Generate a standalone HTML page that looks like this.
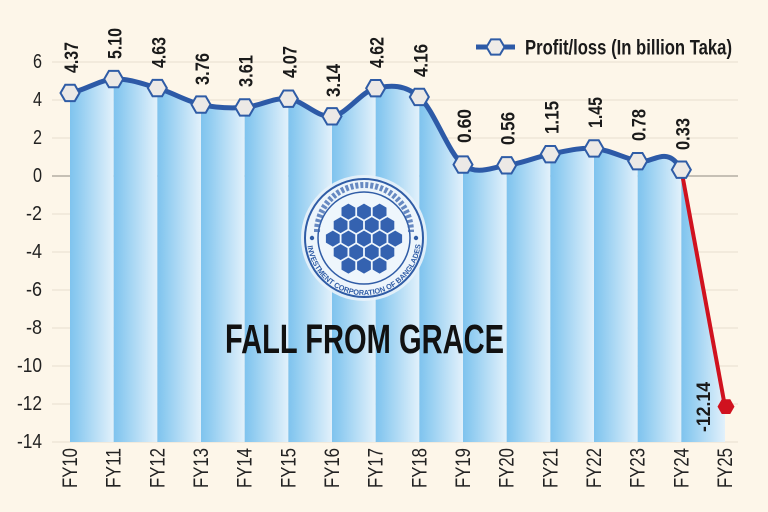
<!DOCTYPE html>
<html><head><meta charset="utf-8"><style>
html,body{margin:0;padding:0;background:#fdf6e9;}
svg{display:block;}
text{font-family:"Liberation Sans Narrow","Liberation Sans",sans-serif;}
</style></head><body>
<svg width="768" height="512" viewBox="0 0 768 512" xmlns="http://www.w3.org/2000/svg">
<defs>
<linearGradient id="g" x1="0" x2="1" y1="0" y2="0">
<stop offset="0" stop-color="#7fc3ee"/><stop offset="0.15" stop-color="#8ccaf0"/><stop offset="1" stop-color="#e2f1fb"/>
</linearGradient>
<clipPath id="area">
<path d="M70,92.97 C84.56,90.66 99.11,79.92 113.67,79.1 C128.22,78.28 142.78,83.79 157.33,88.03 C171.89,92.27 186.44,101.33 201,104.56 C215.56,107.79 230.11,108.39 244.67,107.41 C259.22,106.43 273.78,97.18 288.33,98.67 C302.89,100.16 317.44,118.08 332,116.34 C346.56,114.6 361.11,91.45 375.67,88.22 C390.22,84.99 404.78,84.23 419.33,96.96 C433.89,109.69 448.44,153.2 463,164.6 C477.56,176 492.11,167.1 506.67,165.36 C521.22,163.62 535.78,156.97 550.33,154.15 C564.89,151.33 579.44,147.28 594,148.45 C608.56,149.62 623.11,157.63 637.67,161.18 C652.22,164.73 666.78,143.53 681.33,169.73 L725,406.66 L725,442 L70,442 Z"/>
</clipPath>
<path id="arcB" d="M307.2,243 A57,57 0 0 0 420.8,243"/>
</defs>
<rect width="768" height="512" fill="#fdf6e9"/>

<!-- gridlines -->
<g stroke="#e6ddce" stroke-width="1">
<line x1="52" y1="62" x2="738" y2="62"/>
<line x1="52" y1="100" x2="738" y2="100"/>
<line x1="52" y1="138" x2="738" y2="138"/>
<line x1="52" y1="214" x2="738" y2="214"/>
<line x1="52" y1="252" x2="738" y2="252"/>
<line x1="52" y1="290" x2="738" y2="290"/>
<line x1="52" y1="328" x2="738" y2="328"/>
<line x1="52" y1="366" x2="738" y2="366"/>
<line x1="52" y1="404" x2="738" y2="404"/>
<line x1="52" y1="442" x2="738" y2="442"/>
</g>
<line x1="52" y1="176" x2="738" y2="176" stroke="#b3ada4" stroke-width="1.5"/>

<!-- area stripes -->
<g clip-path="url(#area)" fill="url(#g)">
<rect x="70" y="60" width="43.67" height="382"/>
<rect x="113.67" y="60" width="43.67" height="382"/>
<rect x="157.33" y="60" width="43.67" height="382"/>
<rect x="201" y="60" width="43.67" height="382"/>
<rect x="244.67" y="60" width="43.67" height="382"/>
<rect x="288.33" y="60" width="43.67" height="382"/>
<rect x="332" y="60" width="43.67" height="382"/>
<rect x="375.67" y="60" width="43.67" height="382"/>
<rect x="419.33" y="60" width="43.67" height="382"/>
<rect x="463" y="60" width="43.67" height="382"/>
<rect x="506.67" y="60" width="43.67" height="382"/>
<rect x="550.33" y="60" width="43.67" height="382"/>
<rect x="594" y="60" width="43.67" height="382"/>
<rect x="637.67" y="60" width="43.67" height="382"/>
<rect x="681.33" y="60" width="43.67" height="382"/>
</g>

<!-- y tick labels -->
<g font-size="20" fill="#222" text-anchor="end">
<text x="42" y="68" textLength="9" lengthAdjust="spacingAndGlyphs">6</text>
<text x="42" y="106" textLength="9" lengthAdjust="spacingAndGlyphs">4</text>
<text x="42" y="144" textLength="9" lengthAdjust="spacingAndGlyphs">2</text>
<text x="42" y="182" textLength="9" lengthAdjust="spacingAndGlyphs">0</text>
<text x="42" y="220" textLength="16" lengthAdjust="spacingAndGlyphs">-2</text>
<text x="42" y="258" textLength="16" lengthAdjust="spacingAndGlyphs">-4</text>
<text x="42" y="296" textLength="16" lengthAdjust="spacingAndGlyphs">-6</text>
<text x="42" y="334" textLength="16" lengthAdjust="spacingAndGlyphs">-8</text>
<text x="42" y="372" textLength="25" lengthAdjust="spacingAndGlyphs">-10</text>
<text x="42" y="410" textLength="25" lengthAdjust="spacingAndGlyphs">-12</text>
<text x="42" y="448" textLength="25" lengthAdjust="spacingAndGlyphs">-14</text>
</g>

<!-- x labels -->
<g font-size="21" fill="#222" text-anchor="end">
<text transform="translate(77,448) rotate(-90)" textLength="40" lengthAdjust="spacingAndGlyphs">FY10</text>
<text transform="translate(120.67,448) rotate(-90)" textLength="40" lengthAdjust="spacingAndGlyphs">FY11</text>
<text transform="translate(164.33,448) rotate(-90)" textLength="40" lengthAdjust="spacingAndGlyphs">FY12</text>
<text transform="translate(208,448) rotate(-90)" textLength="40" lengthAdjust="spacingAndGlyphs">FY13</text>
<text transform="translate(251.67,448) rotate(-90)" textLength="40" lengthAdjust="spacingAndGlyphs">FY14</text>
<text transform="translate(295.33,448) rotate(-90)" textLength="40" lengthAdjust="spacingAndGlyphs">FY15</text>
<text transform="translate(339,448) rotate(-90)" textLength="40" lengthAdjust="spacingAndGlyphs">FY16</text>
<text transform="translate(382.67,448) rotate(-90)" textLength="40" lengthAdjust="spacingAndGlyphs">FY17</text>
<text transform="translate(426.33,448) rotate(-90)" textLength="40" lengthAdjust="spacingAndGlyphs">FY18</text>
<text transform="translate(470,448) rotate(-90)" textLength="40" lengthAdjust="spacingAndGlyphs">FY19</text>
<text transform="translate(513.67,448) rotate(-90)" textLength="40" lengthAdjust="spacingAndGlyphs">FY20</text>
<text transform="translate(557.33,448) rotate(-90)" textLength="40" lengthAdjust="spacingAndGlyphs">FY21</text>
<text transform="translate(601,448) rotate(-90)" textLength="40" lengthAdjust="spacingAndGlyphs">FY22</text>
<text transform="translate(644.67,448) rotate(-90)" textLength="40" lengthAdjust="spacingAndGlyphs">FY23</text>
<text transform="translate(688.33,448) rotate(-90)" textLength="40" lengthAdjust="spacingAndGlyphs">FY24</text>
<text transform="translate(732,448) rotate(-90)" textLength="40" lengthAdjust="spacingAndGlyphs">FY25</text>
</g>

<!-- logo -->
<g>
<circle cx="364" cy="238" r="63" fill="#e8f2f9" opacity="0.9"/>
<circle cx="364" cy="238" r="59" fill="#edf5fb" stroke="#2f5ca6" stroke-width="2"/>
<circle cx="364" cy="238" r="46" fill="#eef6fc" stroke="#2f5ca6" stroke-width="1.5"/>
<path d="M317,232 A47,47 0 0 1 411,232" fill="none" stroke="#3a64ad" stroke-width="6" stroke-dasharray="3 2" opacity="0.75"/>
<circle cx="312" cy="238" r="2.2" fill="#2f5ca6"/>
<circle cx="416" cy="238" r="2.2" fill="#2f5ca6"/>
<text font-size="7.5" font-weight="bold" fill="#2f5ca6" font-family="Liberation Sans, sans-serif"><textPath href="#arcB" startOffset="3" textLength="170" lengthAdjust="spacingAndGlyphs">INVESTMENT CORPORATION OF BANGLADESH</textPath></text>
<g fill="#3462b0">
<polygon points="348.4,203.6 355.3,207.6 355.3,215.6 348.4,219.6 341.5,215.6 341.5,207.6"/>
<polygon points="364,203.6 370.9,207.6 370.9,215.6 364,219.6 357.1,215.6 357.1,207.6"/>
<polygon points="379.6,203.6 386.5,207.6 386.5,215.6 379.6,219.6 372.7,215.6 372.7,207.6"/>
<polygon points="340.6,217.1 347.5,221.1 347.5,229.1 340.6,233.1 333.7,229.1 333.7,221.1"/>
<polygon points="356.2,217.1 363.1,221.1 363.1,229.1 356.2,233.1 349.3,229.1 349.3,221.1"/>
<polygon points="371.8,217.1 378.7,221.1 378.7,229.1 371.8,233.1 364.9,229.1 364.9,221.1"/>
<polygon points="387.4,217.1 394.3,221.1 394.3,229.1 387.4,233.1 380.5,229.1 380.5,221.1"/>
<polygon points="332.8,230.6 339.7,234.6 339.7,242.6 332.8,246.6 325.9,242.6 325.9,234.6"/>
<polygon points="348.4,230.6 355.3,234.6 355.3,242.6 348.4,246.6 341.5,242.6 341.5,234.6"/>
<polygon points="364,230.6 370.9,234.6 370.9,242.6 364,246.6 357.1,242.6 357.1,234.6"/>
<polygon points="379.6,230.6 386.5,234.6 386.5,242.6 379.6,246.6 372.7,242.6 372.7,234.6"/>
<polygon points="395.2,230.6 402.1,234.6 402.1,242.6 395.2,246.6 388.3,242.6 388.3,234.6"/>
<polygon points="340.6,244.1 347.5,248.1 347.5,256.1 340.6,260.1 333.7,256.1 333.7,248.1"/>
<polygon points="356.2,244.1 363.1,248.1 363.1,256.1 356.2,260.1 349.3,256.1 349.3,248.1"/>
<polygon points="371.8,244.1 378.7,248.1 378.7,256.1 371.8,260.1 364.9,256.1 364.9,248.1"/>
<polygon points="387.4,244.1 394.3,248.1 394.3,256.1 387.4,260.1 380.5,256.1 380.5,248.1"/>
<polygon points="348.4,257.6 355.3,261.6 355.3,269.6 348.4,273.6 341.5,269.6 341.5,261.6"/>
<polygon points="364,257.6 370.9,261.6 370.9,269.6 364,273.6 357.1,269.6 357.1,261.6"/>
<polygon points="379.6,257.6 386.5,261.6 386.5,269.6 379.6,273.6 372.7,269.6 372.7,261.6"/>
</g>
</g>

<!-- title -->
<text x="225" y="353" font-size="41" font-weight="bold" fill="#111" textLength="279" lengthAdjust="spacingAndGlyphs">FALL FROM GRACE</text>

<!-- lines -->
<path d="M70,92.97 C84.56,90.66 99.11,79.92 113.67,79.1 C128.22,78.28 142.78,83.79 157.33,88.03 C171.89,92.27 186.44,101.33 201,104.56 C215.56,107.79 230.11,108.39 244.67,107.41 C259.22,106.43 273.78,97.18 288.33,98.67 C302.89,100.16 317.44,118.08 332,116.34 C346.56,114.6 361.11,91.45 375.67,88.22 C390.22,84.99 404.78,84.23 419.33,96.96 C433.89,109.69 448.44,153.2 463,164.6 C477.56,176 492.11,167.1 506.67,165.36 C521.22,163.62 535.78,156.97 550.33,154.15 C564.89,151.33 579.44,147.28 594,148.45 C608.56,149.62 623.11,157.63 637.67,161.18 C652.22,164.73 666.78,143.53 681.33,169.73" fill="none" stroke="#2d5aa7" stroke-width="5" stroke-linejoin="round"/>
<path d="M681.33,169.73 L725,406.66" fill="none" stroke="#d0121f" stroke-width="4"/>

<!-- markers -->
<g fill="#ece9e6" stroke="#2f5ca6" stroke-width="2">
<polygon transform="translate(70,92.97)" points="-9.5,0 -4.75,-8.2 4.75,-8.2 9.5,0 4.75,8.2 -4.75,8.2"/>
<polygon transform="translate(113.67,79.1)" points="-9.5,0 -4.75,-8.2 4.75,-8.2 9.5,0 4.75,8.2 -4.75,8.2"/>
<polygon transform="translate(157.33,88.03)" points="-9.5,0 -4.75,-8.2 4.75,-8.2 9.5,0 4.75,8.2 -4.75,8.2"/>
<polygon transform="translate(201,104.56)" points="-9.5,0 -4.75,-8.2 4.75,-8.2 9.5,0 4.75,8.2 -4.75,8.2"/>
<polygon transform="translate(244.67,107.41)" points="-9.5,0 -4.75,-8.2 4.75,-8.2 9.5,0 4.75,8.2 -4.75,8.2"/>
<polygon transform="translate(288.33,98.67)" points="-9.5,0 -4.75,-8.2 4.75,-8.2 9.5,0 4.75,8.2 -4.75,8.2"/>
<polygon transform="translate(332,116.34)" points="-9.5,0 -4.75,-8.2 4.75,-8.2 9.5,0 4.75,8.2 -4.75,8.2"/>
<polygon transform="translate(375.67,88.22)" points="-9.5,0 -4.75,-8.2 4.75,-8.2 9.5,0 4.75,8.2 -4.75,8.2"/>
<polygon transform="translate(419.33,96.96)" points="-9.5,0 -4.75,-8.2 4.75,-8.2 9.5,0 4.75,8.2 -4.75,8.2"/>
<polygon transform="translate(463,164.6)" points="-9.5,0 -4.75,-8.2 4.75,-8.2 9.5,0 4.75,8.2 -4.75,8.2"/>
<polygon transform="translate(506.67,165.36)" points="-9.5,0 -4.75,-8.2 4.75,-8.2 9.5,0 4.75,8.2 -4.75,8.2"/>
<polygon transform="translate(550.33,154.15)" points="-9.5,0 -4.75,-8.2 4.75,-8.2 9.5,0 4.75,8.2 -4.75,8.2"/>
<polygon transform="translate(594,148.45)" points="-9.5,0 -4.75,-8.2 4.75,-8.2 9.5,0 4.75,8.2 -4.75,8.2"/>
<polygon transform="translate(637.67,161.18)" points="-9.5,0 -4.75,-8.2 4.75,-8.2 9.5,0 4.75,8.2 -4.75,8.2"/>
<polygon transform="translate(681.33,169.73)" points="-9.5,0 -4.75,-8.2 4.75,-8.2 9.5,0 4.75,8.2 -4.75,8.2"/>
</g>
<polygon transform="translate(726,406.66)" points="-8.5,0 -4.25,-7.4 4.25,-7.4 8.5,0 4.25,7.4 -4.25,7.4" fill="#d0121f"/>

<!-- value labels -->
<g font-size="19" font-weight="bold" fill="#1a1a1a">
<text transform="translate(78,73) rotate(-90)" textLength="31" lengthAdjust="spacingAndGlyphs">4.37</text>
<text transform="translate(121.67,59) rotate(-90)" textLength="31" lengthAdjust="spacingAndGlyphs">5.10</text>
<text transform="translate(165.33,68) rotate(-90)" textLength="31" lengthAdjust="spacingAndGlyphs">4.63</text>
<text transform="translate(209,85) rotate(-90)" textLength="32" lengthAdjust="spacingAndGlyphs">3.76</text>
<text transform="translate(252.67,87) rotate(-90)" textLength="32" lengthAdjust="spacingAndGlyphs">3.61</text>
<text transform="translate(296.33,78) rotate(-90)" textLength="32" lengthAdjust="spacingAndGlyphs">4.07</text>
<text transform="translate(340,97) rotate(-90)" textLength="33" lengthAdjust="spacingAndGlyphs">3.14</text>
<text transform="translate(383.67,68) rotate(-90)" textLength="31" lengthAdjust="spacingAndGlyphs">4.62</text>
<text transform="translate(427.33,77) rotate(-90)" textLength="33" lengthAdjust="spacingAndGlyphs">4.16</text>
<text transform="translate(471,143) rotate(-90)" textLength="34" lengthAdjust="spacingAndGlyphs">0.60</text>
<text transform="translate(514.67,145) rotate(-90)" textLength="33" lengthAdjust="spacingAndGlyphs">0.56</text>
<text transform="translate(558.33,134) rotate(-90)" textLength="33" lengthAdjust="spacingAndGlyphs">1.15</text>
<text transform="translate(602,128) rotate(-90)" textLength="31" lengthAdjust="spacingAndGlyphs">1.45</text>
<text transform="translate(645.67,141) rotate(-90)" textLength="32" lengthAdjust="spacingAndGlyphs">0.78</text>
<text transform="translate(689.33,150) rotate(-90)" textLength="32" lengthAdjust="spacingAndGlyphs">0.33</text>
<text transform="translate(710,432) rotate(-90)" textLength="50" lengthAdjust="spacingAndGlyphs">-12.14</text>
</g>

<!-- legend -->
<line x1="476" y1="47" x2="515" y2="47" stroke="#2d5aa7" stroke-width="5"/>
<polygon transform="translate(495.5,47)" points="-9,0 -4.5,-7.6 4.5,-7.6 9,0 4.5,7.6 -4.5,7.6" fill="#efece8" stroke="#2f5ca6" stroke-width="2"/>
<text x="525" y="54.5" font-size="21" font-weight="bold" fill="#1a1a1a" textLength="207" lengthAdjust="spacingAndGlyphs">Profit/loss (In billion Taka)</text>
</svg>
</body></html>
